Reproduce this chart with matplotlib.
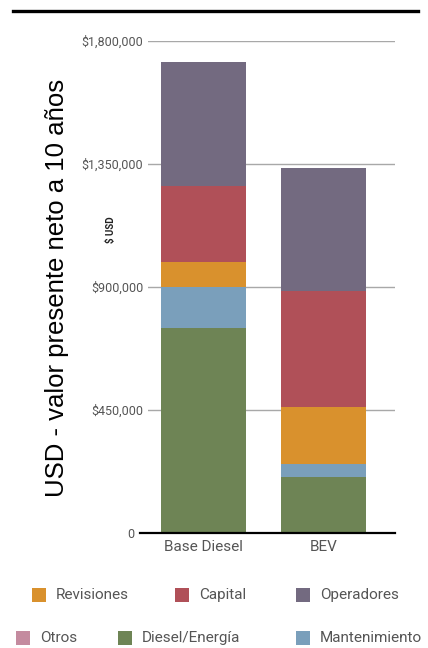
import matplotlib
matplotlib.use("Agg")
import matplotlib.pyplot as plt
from matplotlib.patches import Rectangle
from matplotlib.lines import Line2D
from matplotlib.transforms import ScaledTranslation

# ---- data ----
scenarios = ["Base Diesel", "BEV"]
components = ["Diesel/Energía", "Mantenimiento", "Revisiones", "Capital", "Operadores", "Otros"]
diesel_energia = [750000, 206000]
mantenimiento = [150000, 46000]
revisiones = [93000, 210000]
capital = [278000, 425000]
operadores = [451000, 447000]
otros = [0, 0]
yticks = [0, 450000, 900000, 1350000, 1800000]
yticklabels = ["0", "$450,000", "$900,000", "$1,350,000", "$1,800,000"]

colors = {
    "Diesel/Energía": "#6e8455",
    "Mantenimiento": "#7a9fbb",
    "Revisiones": "#d9912d",
    "Capital": "#b05058",
    "Operadores": "#736a80",
    "Otros": "#c48b9f",
}
series = {
    "Diesel/Energía": diesel_energia,
    "Mantenimiento": mantenimiento,
    "Revisiones": revisiones,
    "Capital": capital,
    "Operadores": operadores,
    "Otros": otros,
}

W, H = 428, 648
fig = plt.figure(figsize=(W / 100, H / 100), dpi=100)
font = "Roboto"

# axes: x 148..395, y 41..533 (pixels from top)
ax = fig.add_axes([148 / W, 1 - 533 / H, (395 - 148) / W, (533 - 41) / H])
x = list(range(len(scenarios)))
bottom = [0] * len(scenarios)
for name in components:
    vals = series[name]
    ax.bar(x, vals, width=0.711, bottom=bottom, color=colors[name], zorder=2,
           linewidth=0)
    bottom = [b + v for b, v in zip(bottom, vals)]

ax.set_xlim(-0.461, 1.597)
ax.set_ylim(0, 1800000)
ax.set_yticks(yticks)
ax.set_yticklabels(yticklabels, fontfamily=font, fontsize=9, color="#555555")
ax.set_xticks(x)
ax.set_xticklabels(scenarios, fontfamily=font, fontsize=11, color="#555555")
ax.tick_params(axis="y", length=0, pad=3.5)
ax.tick_params(axis="x", length=0, pad=5)
ax.grid(axis="y", color="#a8a8a8", linewidth=1.0, zorder=1)
ax.set_axisbelow(True)
for s in ax.spines.values():
    s.set_visible(False)
ax.add_line(Line2D([-0.53, 1.597], [0, 0], color="black", linewidth=1.6,
                   clip_on=False, zorder=3))
# the "0" label sits left of the extended baseline
zero_lbl = ax.get_yticklabels()[0]
zero_lbl.set_transform(zero_lbl.get_transform() +
                       ScaledTranslation(-6 / 72, 0, fig.dpi_scale_trans))

# small "$ USD" label
fig.text(111 / W, 1 - 230 / H, "$ USD", rotation=90, ha="center", va="center",
         fontfamily=font, fontsize=7, fontweight="bold", color="#222222")

# big y label
fig.text(57 / W, 1 - 288 / H, "USD - valor presente neto a 10 años", rotation=90,
         ha="center", va="center", fontfamily="Liberation Sans", fontsize=18.5,
         color="black")

# top rule
fig.add_artist(Line2D([13 / W, 418 / W], [1 - 11 / H, 1 - 11 / H], color="black",
                      linewidth=2.4))

# legend (manual placement)
legend_items = [
    ("Revisiones", 32, 595), ("Capital", 175, 595), ("Operadores", 296, 595),
    ("Otros", 16, 638), ("Diesel/Energía", 118, 638), ("Mantenimiento", 296, 638),
]
sq = 14
for name, px, py in legend_items:
    fig.add_artist(Rectangle((px / W, 1 - (py + sq / 2) / H), sq / W, sq / H,
                             facecolor=colors[name], edgecolor="none",
                             transform=fig.transFigure))
    fig.text((px + sq + 10) / W, 1 - py / H, name, ha="left", va="center",
             fontfamily=font, fontsize=11, color="#555555")

fig.savefig("out.png", dpi=100)
